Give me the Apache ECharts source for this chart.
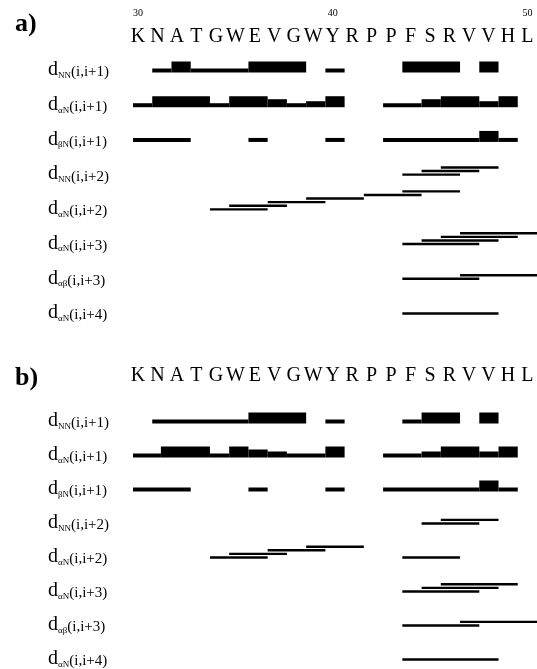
<!DOCTYPE html>
<html>
<head>
<meta charset="utf-8">
<script src="https://cdn.jsdelivr.net/npm/echarts/dist/echarts.min.js"></script>
<style>
  html, body { margin: 0; padding: 0; background: #fff; }
  #chart { width: 537px; height: 669px; }
</style>
</head>
<body>
<div id="chart"></div>
<script>
const residues = ["K", "N", "A", "T", "G", "W", "E", "V", "G", "W", "Y", "R", "P", "P", "F", "S", "R", "V", "V", "H", "L"];
const firstResidue = 30;
const tickNumbers = [30, 40, 50];
const rowSubscripts = ["NN", "αN", "βN", "NN", "αN", "αN", "αβ", "αN"];
const rowRanges = ["(i,i+1)", "(i,i+1)", "(i,i+1)", "(i,i+2)", "(i,i+2)", "(i,i+3)", "(i,i+3)", "(i,i+4)"];

// sequential NOEs: [from, to, intensity 1 = weak .. 4 = strong]
const aNN1 = [[31, 32, 1], [32, 33, 4], [33, 36, 1], [36, 39, 4], [40, 41, 1], [44, 47, 4], [48, 49, 4]];
const aAN1 = [[30, 31, 1], [31, 34, 4], [34, 35, 1], [35, 37, 4], [37, 38, 3], [38, 39, 1], [39, 40, 2], [40, 41, 4],
  [43, 45, 1], [45, 46, 3], [46, 48, 4], [48, 49, 2], [49, 50, 4]];
const aBN1 = [[30, 33, 1], [36, 37, 1], [40, 41, 1], [43, 48, 1], [48, 49, 4], [49, 50, 1]];

const bNN1 = [[31, 36, 1], [36, 39, 4], [40, 41, 1], [44, 45, 1], [45, 47, 4], [48, 49, 4]];
const bAN1 = [[30, 31.45, 1], [31.45, 34, 4], [34, 35, 1], [35, 36, 4], [36, 37, 3], [37, 38, 2], [38, 40, 1], [40, 41, 4],
  [43, 45, 1], [45, 46, 2], [46, 48, 4], [48, 49, 2], [49, 50, 4]];
const bBN1 = [[30, 33, 1], [36, 37, 1], [40, 41, 1], [43, 48, 1], [48, 49, 4], [49, 50, 1]];

// medium range NOEs: [from, to]
const aNN2 = [[44, 47], [45, 48], [46, 49]];
const aAN2 = [[34, 37], [35, 38], [37, 40], [39, 42], [42, 45], [44, 47]];
const aAN3 = [[44, 48], [45, 49], [46, 50], [47, 51]];
const aAB3 = [[44, 48], [47, 51]];
const aAN4 = [[44, 49]];

const bNN2 = [[45, 48], [46, 49]];
const bAN2 = [[34, 37], [35, 38], [37, 40], [39, 42], [44, 47]];
const bAN3 = [[44, 48], [45, 49], [46, 50]];
const bAB3 = [[44, 48], [47, 51]];
const bAN4 = [[44, 49]];

const serif = "'Liberation Serif', 'Times New Roman', serif";
const barHeights = { 1: 4, 2: 6, 3: 8, 4: 11 };

function sequentialData(rows) {
  const out = [];
  rows.forEach((segs, row) => segs.forEach((s) => out.push([s[0], s[1], s[2], row])));
  return out;
}

// lines that touch or overlap the previous one are stacked upwards
function rangeData(rows, firstRow) {
  const out = [];
  rows.forEach((lines, k) => {
    let stack = 0;
    let prevEnd = -Infinity;
    lines.forEach((l) => {
      stack = l[0] <= prevEnd ? stack + 1 : 0;
      prevEnd = l[1];
      out.push([l[0], l[1], stack, firstRow + k]);
    });
  });
  return out;
}

function renderBar(params, api) {
  const a = api.coord([api.value(0), api.value(3)]);
  const b = api.coord([api.value(1), api.value(3)]);
  const h = barHeights[api.value(2)];
  return {
    type: "rect",
    shape: { x: a[0], y: a[1] + 2.5 - h, width: b[0] - a[0], height: h },
    style: { fill: "#000" },
  };
}

function renderLine(params, api) {
  const a = api.coord([api.value(0), api.value(3)]);
  const b = api.coord([api.value(1), api.value(3)]);
  const y = a[1] + 0.5 - api.value(2) * 3.6;
  return {
    type: "rect",
    shape: { x: a[0], y: y - 1.2, width: b[0] - a[0], height: 2.4 },
    style: { fill: "#000" },
  };
}

function rowAxis(gridIndex) {
  return {
    gridIndex,
    type: "value",
    inverse: true,
    min: 0,
    max: 7,
    interval: 1,
    axisLine: { show: false },
    axisTick: { show: false },
    splitLine: { show: false },
    axisLabel: {
      margin: 85,
      align: "left",
      verticalAlign: "middle",
      formatter: (v) => "{d|d}{s|" + rowSubscripts[v] + "}{r|" + rowRanges[v] + "}",
      rich: {
        d: { fontFamily: serif, fontSize: 20, lineHeight: 20, color: "#000", verticalAlign: "bottom" },
        s: { fontFamily: serif, fontSize: 9, lineHeight: 11, color: "#000", verticalAlign: "bottom" },
        r: { fontFamily: serif, fontSize: 15, lineHeight: 17, color: "#000", verticalAlign: "bottom" },
      },
    },
  };
}

function residueAxis(gridIndex) {
  return {
    gridIndex,
    type: "value",
    min: 30,
    max: 50,
    interval: 1,
    position: "bottom",
    axisLine: { show: false },
    axisTick: { show: false },
    splitLine: { show: false },
    axisLabel: {
      interval: 0,
      margin: 0,
      verticalAlign: "middle",
      fontFamily: serif,
      fontSize: 20,
      color: "#000",
      formatter: (v) => residues[v - firstResidue],
    },
  };
}

function hiddenAxis(gridIndex) {
  return { gridIndex, type: "value", min: 30, max: 51, show: false };
}

const myChart = echarts.init(document.getElementById("chart"));
myChart.setOption({
  animation: false,
  backgroundColor: "#fff",
  title: [
    { text: "a)", left: 10, top: 6, textStyle: { fontFamily: serif, fontSize: 26, fontWeight: "bold", color: "#000" } },
    { text: "b)", left: 10, top: 360, textStyle: { fontFamily: serif, fontSize: 26, fontWeight: "bold", color: "#000" } },
  ],
  grid: [
    { left: 133, width: 404.25, top: 70, height: 243 },
    { left: 133, width: 404.25, top: 421, height: 246.4 },
    { left: 138, width: 389.4, top: 36, height: 1 },
    { left: 138, width: 389.4, top: 375, height: 1 },
  ],
  xAxis: [
    hiddenAxis(0),
    hiddenAxis(1),
    residueAxis(2),
    {
      gridIndex: 2,
      type: "value",
      min: 30,
      max: 50,
      interval: 1,
      position: "top",
      axisLine: { show: false },
      axisTick: { show: false },
      splitLine: { show: false },
      axisLabel: {
        interval: 0,
        margin: 23,
        verticalAlign: "middle",
        fontFamily: serif,
        fontSize: 10,
        color: "#000",
        formatter: (v) => (tickNumbers.includes(v) ? String(v) : ""),
      },
    },
    residueAxis(3),
  ],
  yAxis: [
    rowAxis(0),
    rowAxis(1),
    { gridIndex: 2, type: "value", show: false },
    { gridIndex: 3, type: "value", show: false },
  ],
  series: [
    {
      type: "custom", xAxisIndex: 0, yAxisIndex: 0, clip: false, silent: true,
      encode: { x: [0, 1], y: 3 }, renderItem: renderBar,
      data: sequentialData([aNN1, aAN1, aBN1]),
    },
    {
      type: "custom", xAxisIndex: 0, yAxisIndex: 0, clip: false, silent: true,
      encode: { x: [0, 1], y: 3 }, renderItem: renderLine,
      data: rangeData([aNN2, aAN2, aAN3, aAB3, aAN4], 3),
    },
    {
      type: "custom", xAxisIndex: 1, yAxisIndex: 1, clip: false, silent: true,
      encode: { x: [0, 1], y: 3 }, renderItem: renderBar,
      data: sequentialData([bNN1, bAN1, bBN1]),
    },
    {
      type: "custom", xAxisIndex: 1, yAxisIndex: 1, clip: false, silent: true,
      encode: { x: [0, 1], y: 3 }, renderItem: renderLine,
      data: rangeData([bNN2, bAN2, bAN3, bAB3, bAN4], 3),
    },
  ],
});
</script>
</body>
</html>
